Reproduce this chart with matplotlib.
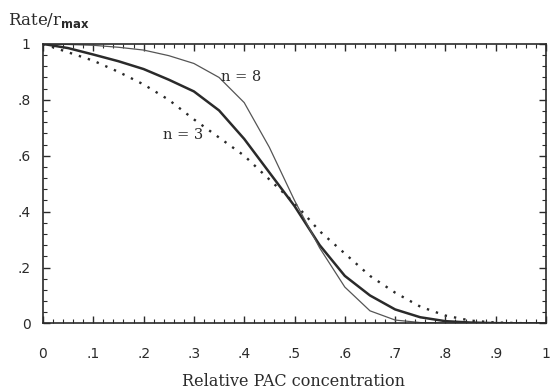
import matplotlib
matplotlib.use("Agg")
import matplotlib.pyplot as plt
from matplotlib.ticker import MultipleLocator

# values
x_pts = [0.0, 0.05, 0.1, 0.15, 0.2, 0.25, 0.3, 0.35, 0.4, 0.45, 0.5,
         0.55, 0.6, 0.65, 0.7, 0.75, 0.8, 0.85, 0.9, 0.95, 1.0]

rate_n8 = [1.0, 0.998, 0.995, 0.988, 0.978, 0.958, 0.93, 0.88, 0.79, 0.63, 0.44,
           0.27, 0.13, 0.045, 0.012, 0.003, 0.001, 0.0, 0.0, 0.0, 0.0]
rate_n3 = [1.0, 0.985, 0.962, 0.938, 0.91, 0.872, 0.83, 0.762, 0.66, 0.54, 0.42,
           0.28, 0.17, 0.10, 0.05, 0.022, 0.008, 0.003, 0.001, 0.0, 0.0]
rate_dot = [1.0, 0.97, 0.94, 0.9, 0.855, 0.80, 0.73, 0.665, 0.60, 0.515, 0.43,
            0.33, 0.25, 0.17, 0.11, 0.06, 0.028, 0.01, 0.003, 0.001, 0.0]

x_ticks = [0, 0.1, 0.2, 0.3, 0.4, 0.5, 0.6, 0.7, 0.8, 0.9, 1.0]
x_labels = ["0", ".1", ".2", ".3", ".4", ".5", ".6", ".7", ".8", ".9", "1"]
y_ticks = [0, 0.2, 0.4, 0.6, 0.8, 1.0]
y_labels = ["0", ".2", ".4", ".6", ".8", "1"]

ink = "#2a2a2a"

fig = plt.figure(figsize=(5.51, 3.92), dpi=100)
ax = fig.add_axes([0.078, 0.175, 0.913, 0.713])

ax.plot(x_pts, rate_dot, color=ink, lw=1.7, linestyle=(0, (1, 3)))
ax.plot(x_pts, rate_n3, color=ink, lw=1.8)
ax.plot(x_pts, rate_n8, color="#555555", lw=0.9)

ax.set_xlim(0, 1)
ax.set_ylim(0, 1)
ax.set_xticks(x_ticks)
ax.set_xticklabels(x_labels)
ax.set_yticks(y_ticks)
ax.set_yticklabels(y_labels)
ax.xaxis.set_minor_locator(MultipleLocator(0.02))
ax.yaxis.set_minor_locator(MultipleLocator(0.04))

ax.tick_params(which="both", direction="in", top=True, right=True, color=ink)
ax.tick_params(which="major", length=5, width=1.0)
ax.tick_params(which="minor", length=3, width=0.8)
ax.tick_params(axis="x", which="major", pad=17, labelsize=10, labelcolor=ink)
ax.tick_params(axis="y", which="major", pad=9, labelsize=10, labelcolor=ink)
for s in ax.spines.values():
    s.set_color(ink)
    s.set_linewidth(1.2)

ax.text(0.278, 0.674, "n = 3", fontsize=10.5, family="DejaVu Serif",
        color=ink, ha="center", va="center")
ax.text(0.394, 0.882, "n = 8", fontsize=10.5, family="DejaVu Serif",
        color=ink, ha="center", va="center")

# x label placed by hand, sits close to the bottom edge like the scan
fig.text(294 / 551, 1 - 382 / 392, "Relative PAC concentration", fontsize=11.5,
         family="DejaVu Serif", color=ink, ha="center", va="center")
fig.text(8 / 551, 1 - 21 / 392, r"Rate/r$_{\mathbf{max}}$", fontsize=12,
         family="DejaVu Serif", color=ink, ha="left", va="center")

fig.savefig("out.png", dpi=100)
